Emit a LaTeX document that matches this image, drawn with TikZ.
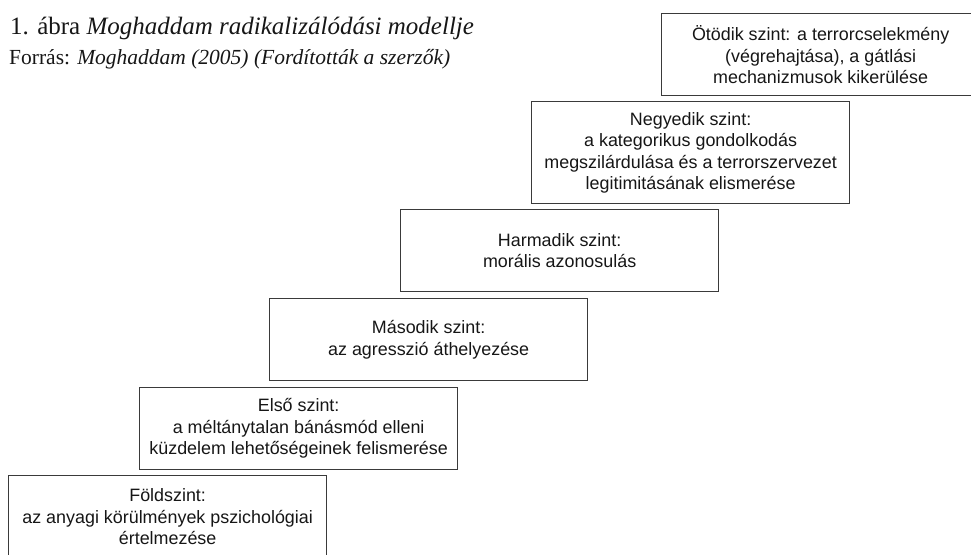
\documentclass[tikz,border=0pt]{standalone}
\usepackage{fontspec}
\setmainfont{Liberation Serif}
\setsansfont{Liberation Sans}
\definecolor{boxline}{HTML}{3A3A3A}
\definecolor{ink}{HTML}{161616}
\begin{document}
\begin{tikzpicture}[x=1pt,y=-1pt,
  lvl/.style={draw=boxline, line width=1.3pt, anchor=north west,
    minimum width=318pt, minimum height=82pt, inner sep=0pt,
    align=center, text=ink,
    font=\sffamily\fontsize{17.9pt}{21.5pt}\selectfont},
  captext/.style={anchor=base west, inner sep=0pt, text=ink}]
\useasboundingbox (0,0) rectangle (971,554);
\node[captext, font=\fontsize{25pt}{29pt}\selectfont] (t1) at (10,34)
  {1. ábra \textit{Moghaddam radikalizálódási modellje}};
\node[captext, font=\fontsize{21.5pt}{26pt}\selectfont] (t2) at (9,64)
  {Forrás: \textit{Moghaddam (2005) (Fordították a szerzők)}};
\node[lvl] (l0) at (8,475) {Földszint:\\az anyagi körülmények pszichológiai\\értelmezése};
\node[lvl] (l1) at (139,387) {Első szint:\\a méltánytalan bánásmód elleni\\küzdelem lehetőségeinek felismerése};
\node[lvl] (l2) at (269,298) {Második szint:\\az agresszió áthelyezése};
\node[lvl] (l3) at (400,209) {Harmadik szint:\\morális azonosulás};
\node[lvl, minimum height=102pt] (l4) at (531,101) {Negyedik szint:\\a kategorikus gondolkodás\\megszilárdulása és a terrorszervezet\\legitimitásának elismerése};
\node[lvl] (l5) at (661,13) {Ötödik szint: a terrorcselekmény\\(végrehajtása), a gátlási\\mechanizmusok kikerülése};
\end{tikzpicture}
\end{document}
